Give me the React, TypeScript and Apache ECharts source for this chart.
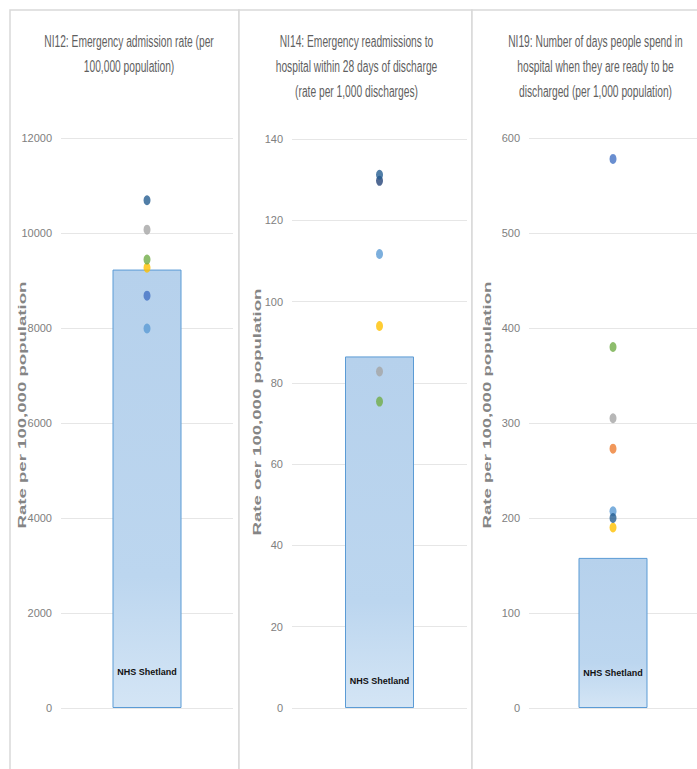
import React, { useEffect, useRef } from "react";
import * as echarts from "echarts";

// ---------- data ----------
const CATEGORY = ["NHS Shetland"];

const NI12_TITLE = "NI12: Emergency admission rate (per\n100,000 population)";
const NI12_SHETLAND = [9230];
const NI12_COMPARATORS = [7990, 8680, 9270, 9440, 10070, 10690];
const NI12_COMPARATOR_COLOURS = ["lightBlue", "blue", "yellow", "green", "grey", "darkBlue"];

const NI14_TITLE = "NI14: Emergency readmissions to\nhospital within 28 days of discharge\n(rate per 1,000 discharges)";
const NI14_SHETLAND = [86.5];
const NI14_COMPARATORS = [75.4, 82.8, 94.0, 111.7, 129.7, 131.2];
const NI14_COMPARATOR_COLOURS = ["green", "grey", "yellow", "lightBlue", "navy", "darkBlue"];

const NI19_TITLE = "NI19: Number of days people spend in\nhospital when they are ready to be\ndischarged (per 1,000 population)";
const NI19_SHETLAND = [158];
const NI19_COMPARATORS = [190, 207, 200, 273, 305, 380, 578];
const NI19_COMPARATOR_COLOURS = ["yellow", "lightBlue", "darkBlue", "orange", "grey", "green", "blue"];

const AXIS_TITLES = ["Rate per 100,000 population", "Rate oer 100,000 population", "Rate per 100,000 population"];

const PALETTE: Record<string, string> = {
  blue: "#4472C4",
  orange: "#ED7D31",
  grey: "#A5A5A5",
  yellow: "#FFC000",
  lightBlue: "#5B9BD5",
  green: "#70AD47",
  darkBlue: "#255E91",
  navy: "#264478",
};

const SANS = "'Liberation Sans', Arial, sans-serif";

export default function App() {
  const ref = useRef<HTMLDivElement>(null);

  useEffect(() => {
    document.body.style.margin = "0";
    if (!ref.current) return;
    const chart = echarts.init(ref.current, undefined, { renderer: "svg" });

    const panels = [
      { title: NI12_TITLE, bar: NI12_SHETLAND, pts: NI12_COMPARATORS, cols: NI12_COMPARATOR_COLOURS, max: 12000, interval: 2000, grid: { left: 61, right: 464, top: 138, bottom: 61 }, labelDist: 32, titleX: 129, axisX: 22.5, axisY: 405 },
      { title: NI14_TITLE, bar: NI14_SHETLAND, pts: NI14_COMPARATORS, cols: NI14_COMPARATOR_COLOURS, max: 140, interval: 20, grid: { left: 292, right: 230, top: 139, bottom: 61 }, labelDist: 23, titleX: 356.5, axisX: 257, axisY: 412 },
      { title: NI19_TITLE, bar: NI19_SHETLAND, pts: NI19_COMPARATORS, cols: NI19_COMPARATOR_COLOURS, max: 600, interval: 100, grid: { left: 529, right: 0, top: 138, bottom: 61 }, labelDist: 31, titleX: 595.5, axisX: 487, axisY: 405 },
    ];

    const grids: any[] = [];
    const xAxes: any[] = [];
    const yAxes: any[] = [];
    const series: any[] = [];
    const graphics: any[] = [];

    // panel frames
    const frames = [
      [10, 229],
      [239, 233],
      [472, 250],
    ];
    frames.forEach(([x, w]) => {
      graphics.push({
        type: "rect",
        shape: { x, y: 10, width: w, height: 800 },
        style: { fill: "#fff", stroke: "#D9D9D9", lineWidth: 1.5 },
        z: -10,
        silent: true,
      });
    });

    panels.forEach((p, i) => {
      grids.push({ ...p.grid });
      xAxes.push({
        type: "category",
        gridIndex: i,
        data: CATEGORY,
        show: false,
      });
      yAxes.push({
        type: "value",
        gridIndex: i,
        min: 0,
        max: p.max,
        interval: p.interval,
        axisLine: { show: false },
        axisTick: { show: false },
        axisLabel: { color: "#808080", fontSize: 11, fontFamily: SANS, margin: 9, formatter: (v: number) => String(v) },
        splitLine: { lineStyle: { color: "#E6E6E6", width: 1 } },
      });
      series.push({
        type: "bar",
        xAxisIndex: i,
        yAxisIndex: i,
        data: p.bar,
        barWidth: 69,
        itemStyle: {
          color: new echarts.graphic.LinearGradient(0, 0, 0, 1, [
            { offset: 0, color: "#B6D1EC" },
            { offset: 0.7, color: "#BCD6EF" },
            { offset: 1, color: "#D4E5F5" },
          ]),
          borderColor: "#5B9BD5",
          borderWidth: 1,
        },
        label: {
          show: true,
          position: "insideBottom",
          distance: p.labelDist,
          formatter: () => CATEGORY[0],
          color: "#111",
          fontSize: 9,
          fontWeight: "bold",
          fontFamily: SANS,
        },
        z: 2,
      });
      series.push({
        type: "scatter",
        xAxisIndex: i,
        yAxisIndex: i,
        symbol: "circle",
        symbolSize: [7, 10],
        data: p.pts.map((v, k) => ({ value: [0, v], itemStyle: { color: PALETTE[p.cols[k]] } })),
        z: 5,
      });
      graphics.push({
        type: "text",
        x: p.titleX,
        y: 29,
        scaleX: 0.64,
        style: {
          text: p.title,
          font: "16px " + SANS,
          fill: "#5f5f5f",
          align: "center",
          verticalAlign: "top",
          lineHeight: 25,
        },
        z: 10,
      });
      graphics.push({
        type: "text",
        x: p.axisX,
        y: p.axisY,
        rotation: Math.PI / 2,
        scaleX: 1.86,
        style: {
          text: AXIS_TITLES[i],
          font: "bold 10px " + SANS,
          fill: "#858585",
          align: "center",
          verticalAlign: "middle",
        },
        z: 10,
      });
    });

    chart.setOption({
      animation: false,
      backgroundColor: "#fff",
      grid: grids,
      xAxis: xAxes,
      yAxis: yAxes,
      series,
      graphic: graphics,
    });

    return () => chart.dispose();
  }, []);

  return <div ref={ref} style={{ width: 697, height: 769 }} />;
}
